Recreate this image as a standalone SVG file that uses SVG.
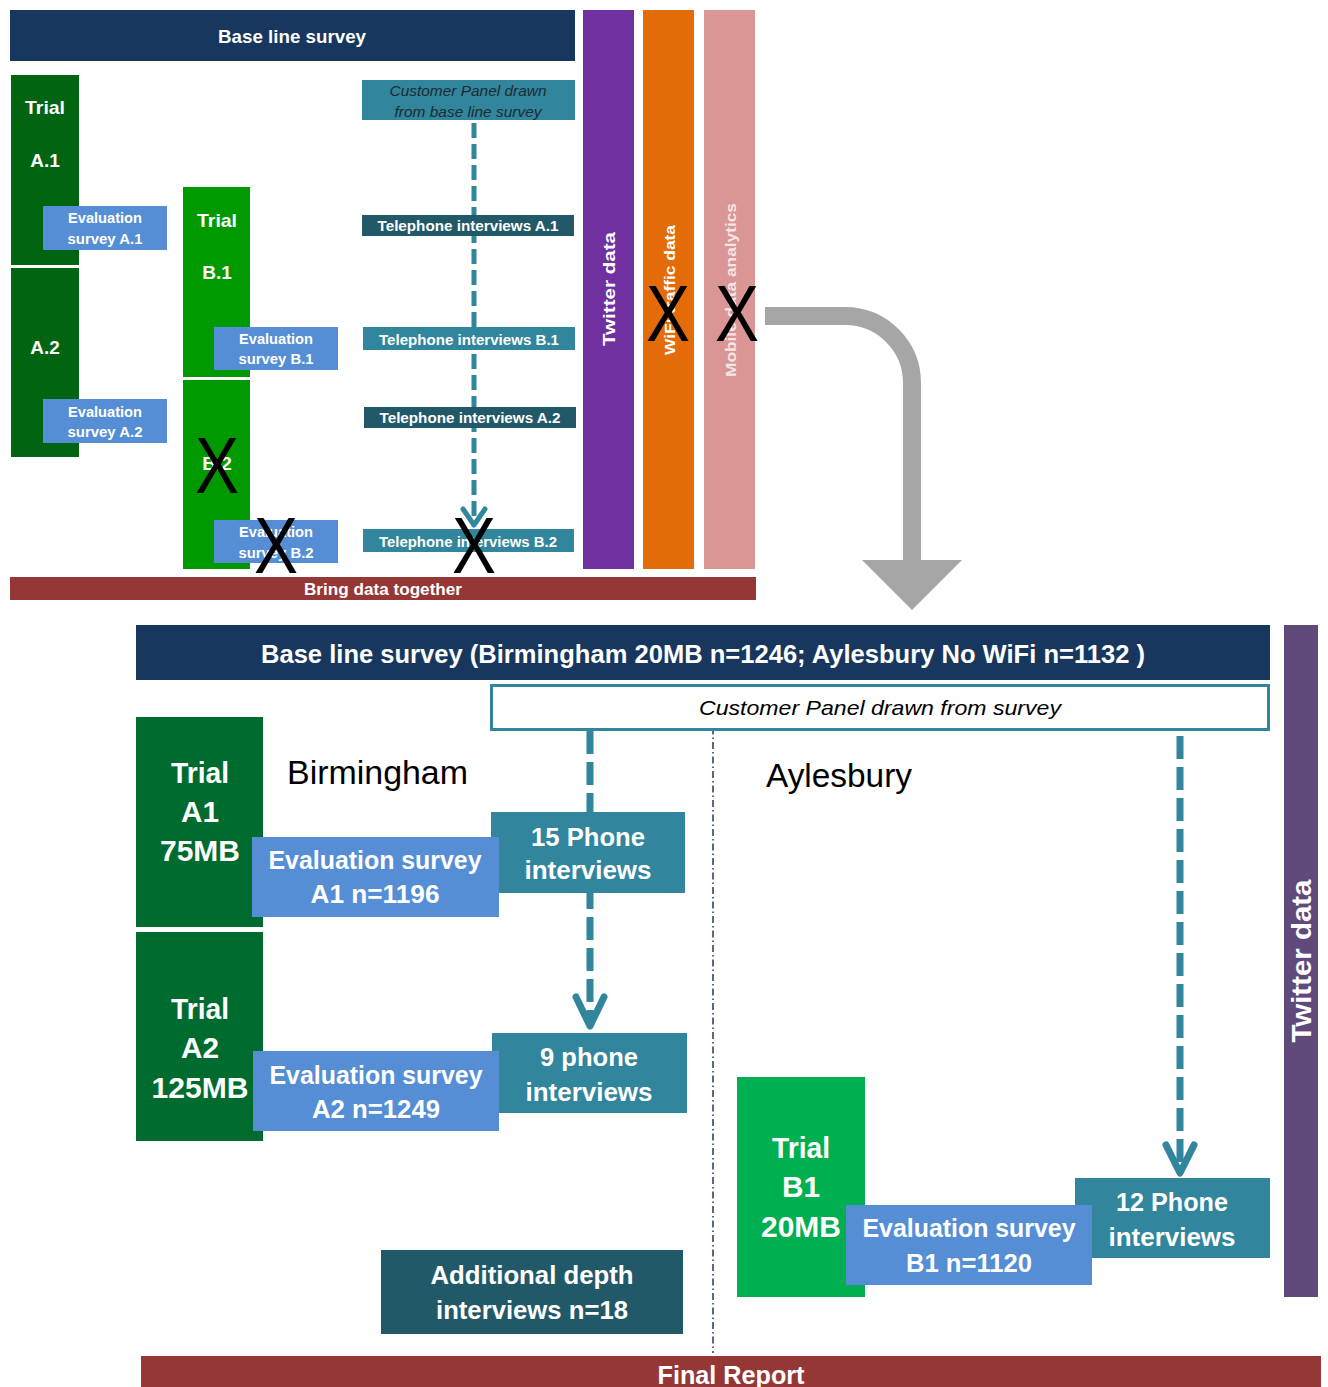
<svg xmlns="http://www.w3.org/2000/svg" width="1328" height="1387" viewBox="0 0 1328 1387">
<style>
text{font-family:"Liberation Sans",Arial,sans-serif;fill:#fff;font-weight:bold;text-anchor:middle}
.it{font-style:italic;font-weight:normal}
.reg{font-weight:normal;fill:#000;text-anchor:start}
.x{font-weight:normal;fill:#000;font-size:80px}
.navy{fill:#17375e}.dg{fill:#006411}.bg{fill:#009a00}.ev{fill:#558ed5}.tl{fill:#31859c}.dt{fill:#215968}.br{fill:#953735}
.s14{font-size:14px}.s19{font-size:19px}.s26{font-size:26px}.s29{font-size:29px}
</style>
<defs>
<marker id="chevT" markerWidth="10" markerHeight="10" refX="5" refY="5" orient="auto" markerUnits="userSpaceOnUse" viewBox="0 0 10 10"><path d="M0,0 L5,5 L0,10" fill="none"/></marker>
</defs>
<g id="connectors">
<line x1="474" y1="123" x2="474" y2="522" stroke="#31859c" stroke-width="5" stroke-dasharray="15 6"/>
<polyline points="463,509 474,525 485,509" fill="none" stroke="#31859c" stroke-width="5" stroke-linecap="round" stroke-linejoin="round"/>
<path d="M765,316 H845 A67,67 0 0 1 912,383 V562" fill="none" stroke="#a6a6a6" stroke-width="18"/>
<polygon points="862,560 962,560 912,610" fill="#a6a6a6"/>
<line x1="590" y1="731" x2="590" y2="1020" stroke="#31859c" stroke-width="7" stroke-dasharray="23 8"/>
<polyline points="576,997 590,1026 604,997" fill="none" stroke="#31859c" stroke-width="7" stroke-linecap="round" stroke-linejoin="round"/>
<line x1="1180" y1="736" x2="1180" y2="1168" stroke="#31859c" stroke-width="7" stroke-dasharray="23 8"/>
<polyline points="1166,1145 1180,1173 1194,1145" fill="none" stroke="#31859c" stroke-width="7" stroke-linecap="round" stroke-linejoin="round"/>
<line x1="713" y1="684" x2="713" y2="1353" stroke="#1f3864" stroke-width="1.5" stroke-dasharray="7 3 1.5 3"/>
</g>
<g id="top-baseline"><rect x="10" y="10" width="565" height="51" class="navy"/><text x="292" y="43" class="s19" textLength="148" lengthAdjust="spacingAndGlyphs">Base line survey</text></g>
<g id="trial-a1-top"><rect x="11" y="75" width="68" height="190" class="dg"/><text x="45" y="114" class="s19" textLength="40" lengthAdjust="spacingAndGlyphs">Trial</text><text x="45" y="167" class="s19">A.1</text></g>
<g id="trial-a2-top"><rect x="11" y="268" width="68" height="189" class="dg"/><text x="45" y="354" class="s19">A.2</text></g>
<g id="eval-a1-top"><rect x="43" y="206" width="124" height="44" class="ev"/><text x="105" y="223" class="s14" textLength="74" lengthAdjust="spacingAndGlyphs">Evaluation</text><text x="105" y="244" class="s14" textLength="75" lengthAdjust="spacingAndGlyphs">survey A.1</text></g>
<g id="eval-a2-top"><rect x="43" y="399" width="124" height="44" class="ev"/><text x="105" y="417" class="s14" textLength="74" lengthAdjust="spacingAndGlyphs">Evaluation</text><text x="105" y="437" class="s14" textLength="75" lengthAdjust="spacingAndGlyphs">survey A.2</text></g>
<g id="trial-b1-top"><rect x="183" y="187" width="67" height="190" class="bg"/><text x="217" y="227" class="s19" textLength="40" lengthAdjust="spacingAndGlyphs">Trial</text><text x="217" y="279" class="s19">B.1</text></g>
<g id="trial-b2-top"><rect x="183" y="380" width="67" height="189" class="bg"/><text x="217" y="470" class="s19">B.2</text></g>
<g id="eval-b1-top"><rect x="214" y="327" width="124" height="43" class="ev"/><text x="276" y="344" class="s14" textLength="74" lengthAdjust="spacingAndGlyphs">Evaluation</text><text x="276" y="364" class="s14" textLength="75" lengthAdjust="spacingAndGlyphs">survey B.1</text></g>
<g id="eval-b2-top"><rect x="214" y="520" width="124" height="43" class="ev"/><text x="276" y="537" class="s14" textLength="74" lengthAdjust="spacingAndGlyphs">Evaluation</text><text x="276" y="558" class="s14" textLength="75" lengthAdjust="spacingAndGlyphs">survey B.2</text></g>
<g id="panel-top"><rect x="362" y="80" width="213" height="40" class="tl"/><text x="468" y="96" class="s14 it" style="fill:#1c2b33" textLength="157" lengthAdjust="spacingAndGlyphs">Customer Panel drawn</text><text x="468" y="117" class="s14 it" style="fill:#1c2b33" textLength="147" lengthAdjust="spacingAndGlyphs">from base line survey</text></g>
<g id="tel-a1"><rect x="362" y="215" width="212" height="21" class="dt"/><text x="468" y="231" class="s14" textLength="181" lengthAdjust="spacingAndGlyphs">Telephone interviews A.1</text></g>
<g id="tel-b1"><rect x="363" y="327" width="212" height="23" class="tl"/><text x="469" y="345" class="s14" textLength="180" lengthAdjust="spacingAndGlyphs">Telephone interviews B.1</text></g>
<g id="tel-a2"><rect x="364" y="407" width="212" height="21" class="dt"/><text x="470" y="423" class="s14" textLength="181" lengthAdjust="spacingAndGlyphs">Telephone interviews A.2</text></g>
<g id="tel-b2"><rect x="363" y="529" width="211" height="23" class="tl"/><text x="468" y="547" class="s14" textLength="178" lengthAdjust="spacingAndGlyphs">Telephone interviews B.2</text></g>
<g id="twitter-top"><rect x="583" y="10" width="51" height="559" fill="#7030a0"/><text transform="translate(609,289) rotate(-90)" y="6" style="font-size:17px" textLength="114" lengthAdjust="spacingAndGlyphs">Twitter data</text></g>
<g id="wifi-top"><rect x="643" y="10" width="51" height="559" fill="#e36c09"/><text transform="translate(670,290) rotate(-90)" y="5" style="font-size:15px" textLength="130" lengthAdjust="spacingAndGlyphs">WiFi traffic data</text></g>
<g id="mobile-top"><rect x="704" y="10" width="51" height="559" fill="#d99694"/><text transform="translate(731,290) rotate(-90)" y="5" style="font-size:14px;fill:#f5e6e6" textLength="174" lengthAdjust="spacingAndGlyphs">Mobile data analytics</text></g>
<g id="bring"><rect x="10" y="577" width="746" height="23" class="br"/><text x="383" y="595" style="font-size:16px" textLength="158" lengthAdjust="spacingAndGlyphs">Bring data together</text></g>
<g id="crosses">
<text x="217" y="493" class="x" textLength="44" lengthAdjust="spacingAndGlyphs">X</text>
<text x="276" y="573" class="x" textLength="44" lengthAdjust="spacingAndGlyphs">X</text>
<text x="474" y="573" class="x" textLength="44" lengthAdjust="spacingAndGlyphs">X</text>
<text x="668" y="341" class="x" textLength="44" lengthAdjust="spacingAndGlyphs">X</text>
<text x="737" y="341" class="x" textLength="44" lengthAdjust="spacingAndGlyphs">X</text>
</g>
<g id="baseline-bottom"><rect x="136" y="625" width="1134" height="55" class="navy"/><text x="703" y="663" class="s26" textLength="884" lengthAdjust="spacingAndGlyphs">Base line survey (Birmingham 20MB n=1246; Aylesbury No WiFi n=1132 )</text></g>
<g id="panel-bottom"><rect x="491.5" y="685.5" width="777" height="44" fill="#fff" stroke="#31859c" stroke-width="3"/><text x="880" y="715" class="it" style="font-size:21px;fill:#000" textLength="362" lengthAdjust="spacingAndGlyphs">Customer Panel drawn from survey</text></g>
<g id="twitter-bottom"><rect x="1284" y="625" width="34" height="672" fill="#604a7b"/><text transform="translate(1301,961) rotate(-90)" y="10" style="font-size:28px" textLength="163" lengthAdjust="spacingAndGlyphs">Twitter data</text></g>
<g id="birmingham"><text x="287" y="784" class="reg" style="font-size:33px" textLength="181" lengthAdjust="spacingAndGlyphs">Birmingham</text></g>
<g id="aylesbury"><text x="766" y="787" class="reg" style="font-size:33px" textLength="146" lengthAdjust="spacingAndGlyphs">Aylesbury</text></g>
<g id="trial-a1"><rect x="136" y="717" width="127" height="210" fill="#006b2e"/><text x="200" y="783" class="s29" textLength="58" lengthAdjust="spacingAndGlyphs">Trial</text><text x="200" y="822" class="s29" textLength="38" lengthAdjust="spacingAndGlyphs">A1</text><text x="200" y="861" class="s29" textLength="80" lengthAdjust="spacingAndGlyphs">75MB</text></g>
<g id="trial-a2"><rect x="136" y="932" width="127" height="209" fill="#006b2e"/><text x="200" y="1019" class="s29" textLength="58" lengthAdjust="spacingAndGlyphs">Trial</text><text x="200" y="1058" class="s29" textLength="38" lengthAdjust="spacingAndGlyphs">A2</text><text x="200" y="1098" class="s29" textLength="97" lengthAdjust="spacingAndGlyphs">125MB</text></g>
<g id="phone15"><rect x="491" y="812" width="194" height="81" class="tl"/><text x="588" y="846" class="s26" textLength="114" lengthAdjust="spacingAndGlyphs">15 Phone</text><text x="588" y="879" class="s26" textLength="127" lengthAdjust="spacingAndGlyphs">interviews</text></g>
<g id="eval-a1"><rect x="252" y="837" width="247" height="80" class="ev"/><text x="375" y="869" class="s26" textLength="213" lengthAdjust="spacingAndGlyphs">Evaluation survey</text><text x="375" y="903" class="s26" textLength="129" lengthAdjust="spacingAndGlyphs">A1 n=1196</text></g>
<g id="phone9"><rect x="492" y="1033" width="195" height="80" class="tl"/><text x="589" y="1066" class="s26" textLength="98" lengthAdjust="spacingAndGlyphs">9 phone</text><text x="589" y="1101" class="s26" textLength="127" lengthAdjust="spacingAndGlyphs">interviews</text></g>
<g id="eval-a2"><rect x="253" y="1051" width="246" height="80" class="ev"/><text x="376" y="1084" class="s26" textLength="213" lengthAdjust="spacingAndGlyphs">Evaluation survey</text><text x="376" y="1118" class="s26" textLength="128" lengthAdjust="spacingAndGlyphs">A2 n=1249</text></g>
<g id="depth"><rect x="381" y="1250" width="302" height="84" class="dt"/><text x="532" y="1284" class="s26" textLength="203" lengthAdjust="spacingAndGlyphs">Additional depth</text><text x="532" y="1319" class="s26" textLength="192" lengthAdjust="spacingAndGlyphs">interviews n=18</text></g>
<g id="trial-b1"><rect x="737" y="1077" width="128" height="220" fill="#00b050"/><text x="801" y="1158" class="s29" textLength="58" lengthAdjust="spacingAndGlyphs">Trial</text><text x="801" y="1197" class="s29" textLength="38" lengthAdjust="spacingAndGlyphs">B1</text><text x="801" y="1237" class="s29" textLength="80" lengthAdjust="spacingAndGlyphs">20MB</text></g>
<g id="phone12"><rect x="1075" y="1178" width="195" height="80" class="tl"/><text x="1172" y="1211" class="s26" textLength="112" lengthAdjust="spacingAndGlyphs">12 Phone</text><text x="1172" y="1246" class="s26" textLength="127" lengthAdjust="spacingAndGlyphs">interviews</text></g>
<g id="eval-b1"><rect x="846" y="1205" width="246" height="80" class="ev"/><text x="969" y="1237" class="s26" textLength="213" lengthAdjust="spacingAndGlyphs">Evaluation survey</text><text x="969" y="1272" class="s26" textLength="126" lengthAdjust="spacingAndGlyphs">B1 n=1120</text></g>
<g id="final"><rect x="141" y="1356" width="1180" height="31" class="br"/><text x="731" y="1384" class="s26" textLength="147" lengthAdjust="spacingAndGlyphs">Final Report</text></g>
</svg>
